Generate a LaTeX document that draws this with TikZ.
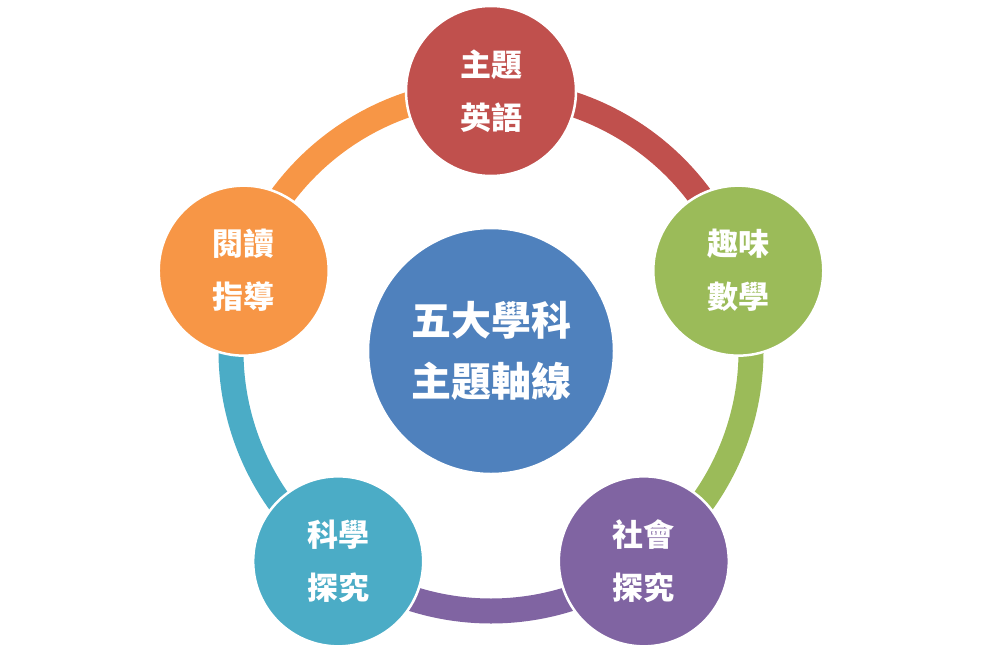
\documentclass[tikz,border=0pt]{standalone}
\usepackage{fontspec}
\newfontfamily\cjk{Noto Sans CJK TC}
\definecolor{cred}{HTML}{C0504D}
\definecolor{cgreen}{HTML}{9BBB59}
\definecolor{cpurple}{HTML}{8064A2}
\definecolor{cteal}{HTML}{4BACC6}
\definecolor{corange}{HTML}{F79646}
\definecolor{cblue}{HTML}{4F81BD}
\tikzset{
  topic/.style={circle,draw=white,line width=2.5pt,minimum size=170pt,inner sep=0pt,
    text=white,align=center,font=\cjk\bfseries\fontsize{31}{53}\selectfont},
  hub/.style={topic,minimum size=246pt,font=\cjk\bfseries\fontsize{40}{61}\selectfont},
  band/.style={line width=25pt}
}
\begin{document}
\begin{tikzpicture}[x=1pt,y=-1pt]
\useasboundingbox (0,0) rectangle (982,656);
\coordinate (hubc) at (491,351);
\path (hubc) ++(-90:260) coordinate (p1);
\path (hubc) ++(-18:260) coordinate (p2);
\path (hubc) ++(54:260) coordinate (p3);
\path (hubc) ++(126:260) coordinate (p4);
\path (hubc) ++(198:260) coordinate (p5);
\draw [band,cred] (p1) arc[start angle=-90,end angle=-18,radius=260];
\draw [band,cgreen] (p2) arc[start angle=-18,end angle=54,radius=260];
\draw [band,cpurple] (p3) arc[start angle=54,end angle=126,radius=260];
\draw [band,cteal] (p4) arc[start angle=126,end angle=198,radius=260];
\draw [band,corange] (p5) arc[start angle=198,end angle=270,radius=260];
\node[topic,fill=cred] (english) at (p1) {主題\\英語};
\node[topic,fill=cgreen] (math) at (p2) {趣味\\數學};
\node[topic,fill=cpurple] (social) at (p3) {社會\\探究};
\node[topic,fill=cteal] (science) at (p4) {科學\\探究};
\node[topic,fill=corange] (reading) at (p5) {閱讀\\指導};
\node[hub,fill=cblue] (core) at (hubc) {五大學科\\主題軸線};
\end{tikzpicture}
\end{document}
